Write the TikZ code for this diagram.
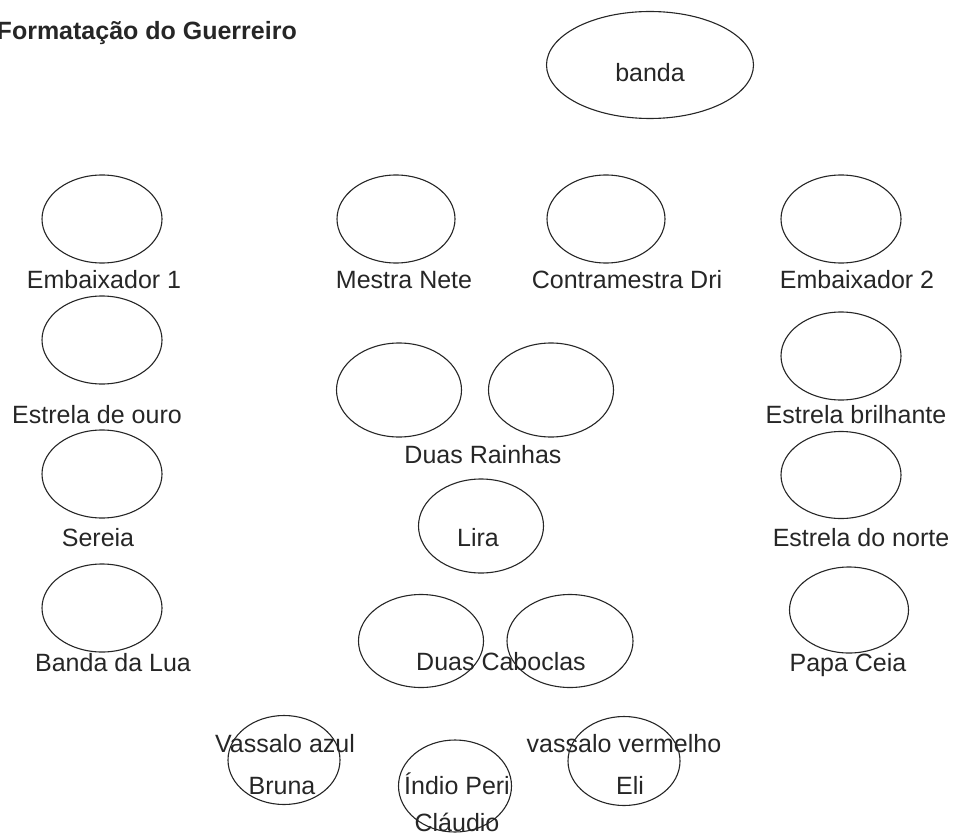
\documentclass[tikz,border=0pt]{standalone}
\usepackage{fontspec}
\setmainfont{Liberation Sans}
\usetikzlibrary{shapes.geometric}
\begin{document}
\begin{tikzpicture}[x=1pt,y=-1pt,
  oval/.style={draw=black!85,line width=1.1pt,ellipse,inner sep=0pt},
  sm/.style={oval,minimum width=120pt,minimum height=88pt},
  md/.style={oval,minimum width=125pt,minimum height=94pt},
  vs/.style={oval,minimum width=112pt,minimum height=89pt},
  lbl/.style={anchor=base,inner sep=0pt,text=black!85,font=\fontsize{25}{29}\selectfont}
]
\useasboundingbox (0,0) rectangle (957,834);
% title
\node[anchor=base east,inner sep=0pt,font=\fontsize{25}{29}\selectfont\bfseries,text=black!85] (title) at (297,40) {Formatação do Guerreiro};
% banda
\node[oval,minimum width=207pt,minimum height=107pt] (banda) at (650,65) {};
\node[lbl] (tbanda) at (650,82) {banda};
% row 1
\node[sm] (emb1) at (102,219) {};
\node[lbl] (temb1) at (104,288) {Embaixador 1};
\node[sm,minimum width=118pt] (mestra) at (396,219) {};
\node[lbl] (tmestra) at (404,288) {Mestra Nete};
\node[sm,minimum width=118pt] (contra) at (606,219) {};
\node[lbl] (tcontra) at (627,288) {Contramestra Dri};
\node[sm] (emb2) at (841,219) {};
\node[lbl] (temb2) at (857,288) {Embaixador 2};
% row 2
\node[sm] (ouro) at (102,340) {};
\node[lbl] (touro) at (97,423) {Estrela de ouro};
\node[md] (rainha1) at (399,390) {};
\node[md] (rainha2) at (551,390) {};
\node[lbl] (trainhas) at (483,463) {Duas Rainhas};
\node[sm] (brilhante) at (841,356) {};
\node[lbl] (tbrilhante) at (856,423) {Estrela brilhante};
% row 3
\node[sm] (sereia) at (102,474) {};
\node[lbl] (tsereia) at (98,546) {Sereia};
\node[md] (lira) at (481,526) {};
\node[lbl] (tlira) at (478,546) {Lira};
\node[sm,minimum height=87pt] (norte) at (841,475) {};
\node[lbl] (tnorte) at (861,546) {Estrela do norte};
% row 4
\node[sm] (lua) at (102,608) {};
\node[lbl] (tlua) at (113,671) {Banda da Lua};
\node[md,minimum height=93pt] (cab1) at (421,641) {};
\node[md,minimum height=93pt,minimum width=126pt] (cab2) at (570,641) {};
\node[lbl] (tcab) at (501,670) {Duas Caboclas};
\node[sm,minimum width=119pt,minimum height=86pt] (papa) at (849,610) {};
\node[lbl] (tpapa) at (848,671) {Papa Ceia};
% row 5
\node[vs] (azul) at (284,760) {};
\node[lbl] (tazul) at (285,752) {Vassalo azul};
\node[lbl] (tbruna) at (282,794) {Bruna};
\node[vs,minimum width=113pt,minimum height=92pt] (indio) at (455,786) {};
\node[lbl] (tindio) at (457,794) {Índio Peri};
\node[lbl] (tclaudio) at (457,831) {Cláudio};
\node[vs] (vermelho) at (624,761) {};
\node[lbl] (tvermelho) at (624,752) {vassalo vermelho};
\node[lbl] (teli) at (630,794) {Eli};
\end{tikzpicture}
\end{document}
